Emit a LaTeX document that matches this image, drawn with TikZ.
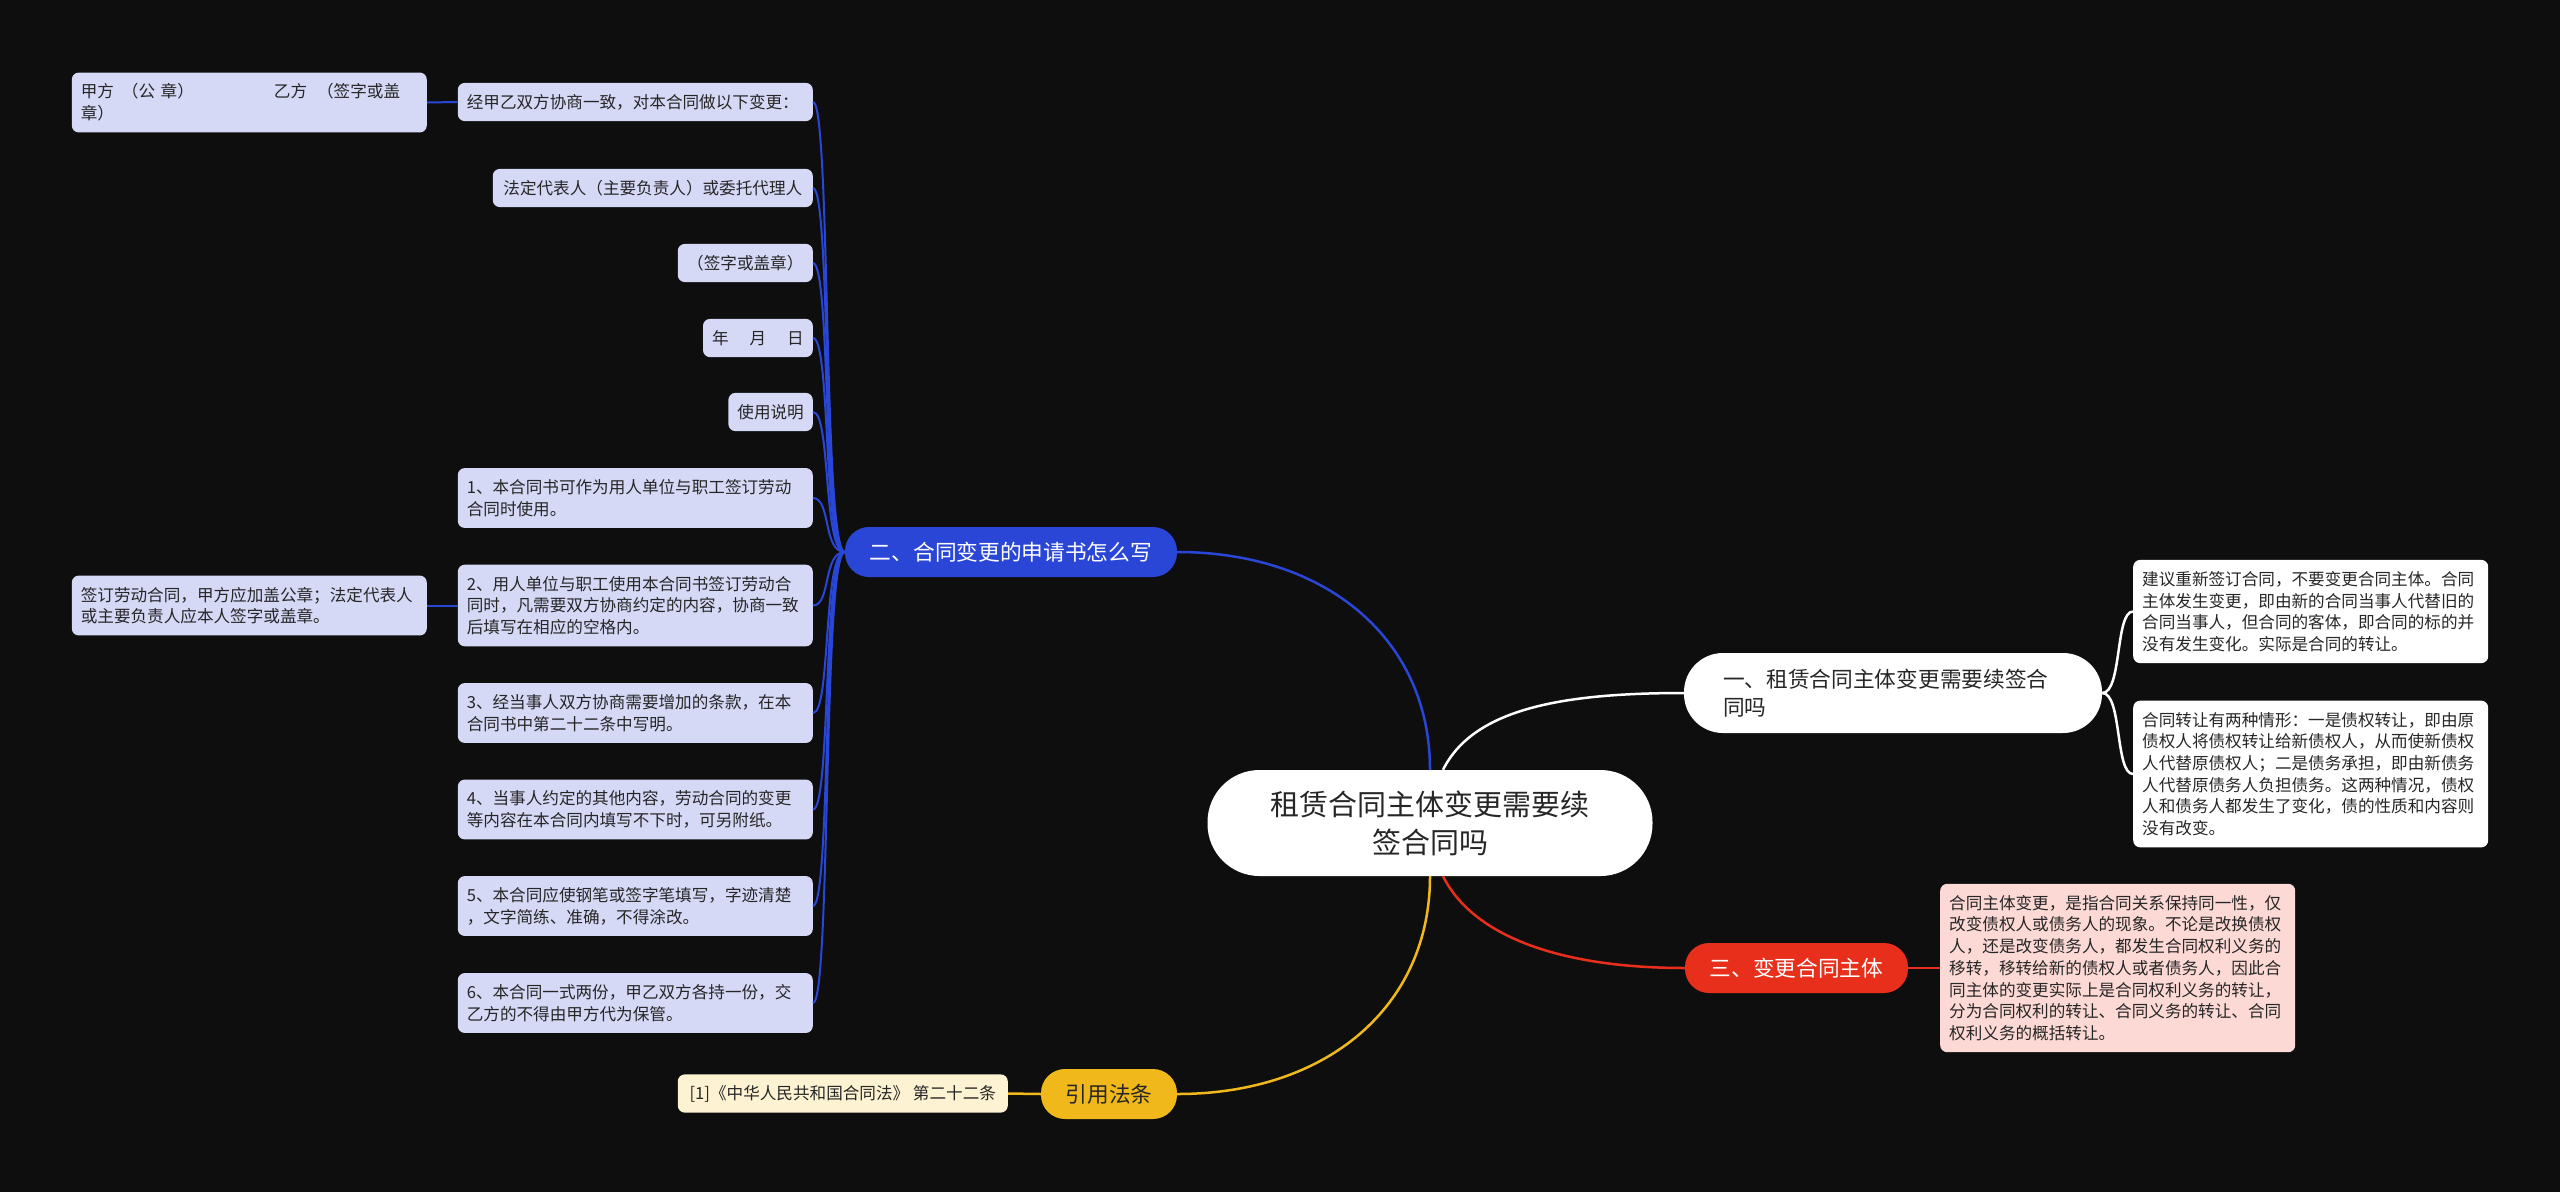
\documentclass[tikz,border=0pt]{standalone}
\usepackage{fontspec}
\setmainfont{Noto Sans CJK SC}
\definecolor{bgdark}{HTML}{0E0E0E}
\definecolor{bluebr}{HTML}{2A46D6}
\definecolor{blueleaf}{HTML}{D5D9F6}
\definecolor{redbr}{HTML}{E72F1C}
\definecolor{redleaf}{HTML}{FCD9D5}
\definecolor{yellowbr}{HTML}{F1B81B}
\definecolor{yellowleaf}{HTML}{FDF2D1}
\definecolor{darktext}{HTML}{262626}

\begin{document}
\begin{tikzpicture}[x=1pt,y=-1pt,
		rootnode/.style={fill=white, text=darktext, rounded corners=52pt, minimum width=445pt, minimum height=106pt, align=center, font=\fontsize{29}{38}\selectfont},
		branch/.style={rounded corners=24pt, minimum height=50pt, inner sep=0pt, font=\fontsize{21.7}{28}\selectfont},
		leaf/.style={rounded corners=7pt, text=darktext, inner xsep=9pt, inner ysep=0pt, font=\fontsize{16.6}{21.7}\selectfont},
		para/.style={leaf, text width=337pt, align=left},
		nlines/.style={minimum height={16.5+21.7*#1}},
		bleaf/.style={fill=blueleaf},
		wleaf/.style={fill=white},
		pleaf/.style={fill=redleaf},
		yleaf/.style={fill=yellowleaf},
		bluelink/.style={draw=bluebr, line width=2.5pt},
		yellowlink/.style={draw=yellowbr, line width=2.5pt},
		redlink/.style={draw=redbr, line width=2.5pt},
		whitelink/.style={draw=white, line width=2.5pt},
		bluefan/.style={draw=bluebr, line width=2pt}]
		% Background
		\fill[bgdark] (0,0) rectangle (2560,1192);
		\useasboundingbox (0,0) rectangle (2560,1192);
		
		% Root
		\node[rootnode] (root) at (1430,823) {租赁合同主体变更需要续\\签合同吗};
		
		% Branches
		\node[branch, fill=bluebr, text=white, minimum width=332pt] (b2) at (1011,552) {二、合同变更的申请书怎么写};
		\node[branch, fill=yellowbr, text=darktext, minimum width=136pt] (b4) at (1109,1094) {引用法条};
		\node[branch, fill=white, text=darktext, minimum width=418pt, minimum height=80pt, rounded corners=39pt, text width=340pt, align=left] (b1) at (1893,693) {一、租赁合同主体变更需要续签合\\同吗};
		\node[branch, fill=redbr, text=white, minimum width=223pt] (b3) at (1796.5,968) {三、变更合同主体};
		
		% Blue leaves
		\node[para, bleaf, nlines=1, anchor=east] (c1) at (813,102) {经甲乙双方协商一致，对本合同做以下变更：};
		\node[leaf, bleaf, nlines=1, minimum width=320pt, anchor=east] (c2) at (813,188) {法定代表人（主要负责人）或委托代理人};
		\node[leaf, bleaf, nlines=1, minimum width=135pt, anchor=east] (c3) at (813,263) {（签字或盖章）};
		\node[leaf, bleaf, nlines=1, minimum width=106pt, anchor=east] (c4) at (813,338) {年\hspace{21pt}月\hspace{21pt}日};
		\node[leaf, bleaf, nlines=1, minimum width=83pt, anchor=east] (c5) at (813,412) {使用说明};
		\node[para, bleaf, nlines=2, anchor=east] (c6) at (813,498) {1、本合同书可作为用人单位与职工签订劳动\\合同时使用。};
		\node[para, bleaf, nlines=3, anchor=east] (c7) at (813,605.5) {2、用人单位与职工使用本合同书签订劳动合\\同时，凡需要双方协商约定的内容，协商一致\\后填写在相应的空格内。};
		\node[para, bleaf, nlines=2, anchor=east] (c8) at (813,713) {3、经当事人双方协商需要增加的条款，在本\\合同书中第二十二条中写明。};
		\node[para, bleaf, nlines=2, anchor=east] (c9) at (813,809.5) {4、当事人约定的其他内容，劳动合同的变更\\等内容在本合同内填写不下时，可另附纸。};
		\node[para, bleaf, nlines=2, anchor=east] (c10) at (813,906) {5、本合同应使钢笔或签字笔填写，字迹清楚\\，文字简练、准确，不得涂改。};
		\node[para, bleaf, nlines=2, anchor=east] (c11) at (813,1003) {6、本合同一式两份，甲乙双方各持一份，交\\乙方的不得由甲方代为保管。};
		\node[para, bleaf, nlines=2, anchor=east] (d1) at (427,102.5) {甲方\hspace{8pt}（公 章）\hspace{80pt}乙方\hspace{10pt}（签字或盖\\章）};
		\node[para, bleaf, nlines=2, anchor=east] (d2) at (427,605.5) {签订劳动合同，甲方应加盖公章；法定代表人\\或主要负责人应本人签字或盖章。};
		
		% Yellow leaf
		\node[leaf, yleaf, nlines=1, minimum width=330pt, inner xsep=4pt, anchor=east] (e1) at (1008,1093.5) {[1]《中华人民共和国合同法》 第二十二条};
		
		% White leaves
		\node[para, wleaf, nlines=4, anchor=west] (r1) at (2133,611.5) {建议重新签订合同，不要变更合同主体。合同\\主体发生变更，即由新的合同当事人代替旧的\\合同当事人，但合同的客体，即合同的标的并\\没有发生变化。实际是合同的转让。};
		\node[para, wleaf, nlines=6, anchor=west] (r2) at (2133,774) {合同转让有两种情形：一是债权转让，即由原\\债权人将债权转让给新债权人，从而使新债权\\人代替原债权人；二是债务承担，即由新债务\\人代替原债务人负担债务。这两种情况，债权\\人和债务人都发生了变化，债的性质和内容则\\没有改变。};
		
		% Red leaf
		\node[para, pleaf, nlines=7, anchor=west] (p1) at (1940,968) {合同主体变更，是指合同关系保持同一性，仅\\改变债权人或债务人的现象。不论是改换债权\\人，还是改变债务人，都发生合同权利义务的\\移转，移转给新的债权人或者债务人，因此合\\同主体的变更实际上是合同权利义务的转让，\\分为合同权利的转让、合同义务的转让、合同\\权利义务的概括转让。};
		
		% Root to branches
		\draw[bluelink] (root.north) .. controls +(0,-130) and +(150,0) .. (b2.east);
		\draw[yellowlink] (root.south) .. controls +(0,130) and +(150,0) .. (b4.east);
		\draw[whitelink] ([xshift=13pt]root.north) .. controls +(30,-60) and +(-125,0) .. (b1.west);
		\draw[redlink] ([xshift=13pt]root.south) .. controls +(30,60) and +(-125,0) .. (b3.west);
		
		% Blue fan
		\draw[bluefan] (b2.west) .. controls +(-22,0) and +(18,0) .. (c1.east);
		\draw[bluefan] (b2.west) .. controls +(-22,0) and +(18,0) .. (c2.east);
		\draw[bluefan] (b2.west) .. controls +(-22,0) and +(18,0) .. (c3.east);
		\draw[bluefan] (b2.west) .. controls +(-22,0) and +(18,0) .. (c4.east);
		\draw[bluefan] (b2.west) .. controls +(-22,0) and +(18,0) .. (c5.east);
		\draw[bluefan] (b2.west) .. controls +(-22,0) and +(18,0) .. (c6.east);
		\draw[bluefan] (b2.west) .. controls +(-22,0) and +(18,0) .. (c7.east);
		\draw[bluefan] (b2.west) .. controls +(-22,0) and +(18,0) .. (c8.east);
		\draw[bluefan] (b2.west) .. controls +(-22,0) and +(18,0) .. (c9.east);
		\draw[bluefan] (b2.west) .. controls +(-22,0) and +(18,0) .. (c10.east);
		\draw[bluefan] (b2.west) .. controls +(-22,0) and +(18,0) .. (c11.east);
		\draw[bluefan] (c1.west) -- (d1.east);
		\draw[bluefan] (c7.west) -- (d2.east);
		
		% Other leaves
		\draw[yellowlink] (b4.west) -- (e1.east);
		\draw[redlink] (b3.east) -- (p1.west);
		\draw[whitelink] (b1.east) .. controls +(20,0) and +(-18,0) .. (r1.west);
		\draw[whitelink] (b1.east) .. controls +(20,0) and +(-18,0) .. (r2.west);
	\end{tikzpicture}
\end{document}
